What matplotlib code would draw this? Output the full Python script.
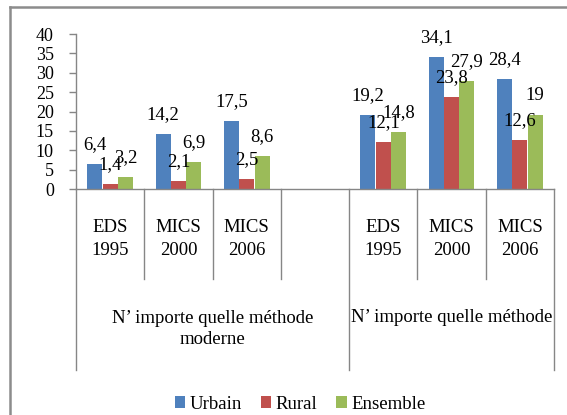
import matplotlib
matplotlib.use("Agg")
import matplotlib.pyplot as plt
from matplotlib.lines import Line2D
import matplotlib.transforms as mtransforms
import numpy as np

plt.rcParams['font.family'] = ['Liberation Serif', 'DejaVu Serif']

surveys = ["EDS\n1995", "MICS\n2000", "MICS\n2006", "", "EDS\n1995", "MICS\n2000", "MICS\n2006"]
groups = ["N’ importe quelle méthode\nmoderne", "N’ importe quelle méthode"]
series = ["Urbain", "Rural", "Ensemble"]
urbain = [6.4, 14.2, 17.5, None, 19.2, 34.1, 28.4]
rural = [1.4, 2.1, 2.5, None, 12.1, 23.8, 12.6]
ensemble = [3.2, 6.9, 8.6, None, 14.8, 27.9, 19]
labels_u = ["6,4", "14,2", "17,5", "", "19,2", "34,1", "28,4"]
labels_r = ["1,4", "2,1", "2,5", "", "12,1", "23,8", "12,6"]
labels_e = ["3,2", "6,9", "8,6", "", "14,8", "27,9", "19"]
colors = ["#4F81BD", "#C0504D", "#9BBB59"]

fig = plt.figure(figsize=(5.67, 4.15), dpi=100)
ax = fig.add_axes([76/567, 1-189/415, (554-76)/567, 155/415])

w = 0.22
offsets = [-0.225, 0.0, 0.225]
xs = np.arange(len(surveys))
for vals, labs, off, col, name in zip([urbain, rural, ensemble], [labels_u, labels_r, labels_e], offsets, colors, series):
    xv = [x + off for x, v in zip(xs, vals) if v is not None]
    yv = [v for v in vals if v is not None]
    lv = [l for l, v in zip(labs, vals) if v is not None]
    ax.bar(xv, yv, width=w, color=col, label=name, zorder=2)
    for x, y, l in zip(xv, yv, lv):
        ax.annotate(l, (x, y), xytext=(0, 14), textcoords='offset points',
                    ha='center', va='center', fontsize=13.5, color='black', zorder=5)

ax.set_xlim(-0.5, 6.5)
ax.set_ylim(0, 40)
ax.set_yticks(range(0, 41, 5))
ax.tick_params(axis='y', labelsize=13, color='#868686', length=5, width=1, pad=11)
ax.set_xticks([])
for s in ['top', 'right']:
    ax.spines[s].set_visible(False)
for s in ['left', 'bottom']:
    ax.spines[s].set_color('#868686')
    ax.spines[s].set_linewidth(1)

trans = mtransforms.blended_transform_factory(ax.transData, ax.transAxes)
short_y = (189-279)/155
long_y = (189-370)/155
for k in range(8):
    b = -0.5 + k
    ybot = long_y if k in (0, 4, 7) else short_y
    ax.plot([b, b], [0, ybot], transform=trans, color='#868686', lw=1, clip_on=False)

for x, s in zip(xs, surveys):
    if s:
        ax.text(x, (189-239)/155, s, transform=trans, ha='center', va='center',
                fontsize=13.5, linespacing=1.4)

ax.text(1.5, (189-329)/155, groups[0], transform=trans, ha='center', va='center',
        fontsize=13.5, linespacing=1.35)
ax.text(5.0, (189-317)/155, groups[1], transform=trans, ha='center', va='center',
        fontsize=13.5)

fig.legend(loc='center', bbox_to_anchor=(300/567, 1-404/415), ncol=3, frameon=False,
           fontsize=13.5, handlelength=0.55, handleheight=0.55, handletextpad=0.25,
           columnspacing=1.0)

fig.add_artist(Line2D([10/567, 10/567], [0, 1-7/415], transform=fig.transFigure,
                      color='#8c8c8c', lw=1.8))
fig.add_artist(Line2D([10/567, 1], [1-7/415, 1-7/415], transform=fig.transFigure,
                      color='#8c8c8c', lw=1.8))

fig.savefig("out.png", dpi=100)
